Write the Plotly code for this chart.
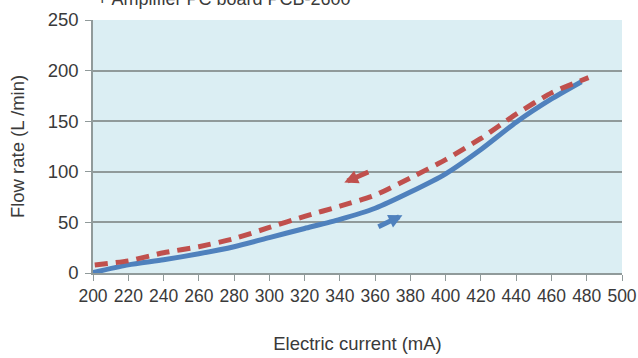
import plotly.graph_objects as go

current_up = [200, 220, 240, 260, 280, 300, 320, 340, 360, 380, 400, 420, 440, 460, 477]
flow_up = [0.5, 8, 13, 19, 26, 35, 44, 53, 64, 80, 98, 122, 149, 172, 189]

current_down = [201, 220, 240, 260, 280, 300, 320, 340, 360, 380, 400, 420, 440, 460, 481]
flow_down = [8, 12, 20, 26, 34, 45, 56, 66, 77, 94, 112, 133, 157, 178, 193]

x_ticks = list(range(200, 501, 20))
y_ticks = [0, 50, 100, 150, 200, 250]

title_text = "+ Amplifier PC board PCB-2600"
x_title = "Electric current (mA)"
y_title = "Flow rate (L /min)"

BLUE = "#4f81bd"
RED = "#c0504d"
GRID = "#909a9a"
FONT = "Liberation Sans, Arial, sans-serif"
TXT = "#3a3a3a"

fig = go.Figure()
fig.add_trace(go.Scatter(x=current_up, y=flow_up, mode="lines",
                         line=dict(color=BLUE, width=5, shape="spline", smoothing=0.6),
                         showlegend=False))
fig.add_trace(go.Scatter(x=current_down, y=flow_down, mode="lines",
                         line=dict(color=RED, width=5, dash="13px,8px", shape="spline", smoothing=0.6),
                         showlegend=False))

# direction arrows
fig.add_annotation(x=342.5, y=89.5, ax=357, ay=100.5, xref="x", yref="y", axref="x", ayref="y",
                   text="", showarrow=True, arrowhead=2, arrowsize=0.55, arrowwidth=5, arrowcolor=RED)
fig.add_annotation(x=375.5, y=57, ax=361, ay=45, xref="x", yref="y", axref="x", ayref="y",
                   text="", showarrow=True, arrowhead=2, arrowsize=0.55, arrowwidth=5, arrowcolor=BLUE)

fig.add_annotation(text=title_text, xref="paper", yref="paper", x=0.004, y=1.083,
                   xanchor="left", yanchor="middle", showarrow=False,
                   font=dict(family=FONT, size=18, color=TXT))

fig.update_layout(
    width=638, height=358,
    margin=dict(l=93, r=16, t=20, b=85),
    paper_bgcolor="white", plot_bgcolor="#dbeef3",
    font=dict(family=FONT, size=18, color=TXT),
)
fig.update_xaxes(range=[200, 500], tickvals=x_ticks, ticktext=[str(v) for v in x_ticks],
                 automargin=False,
                 showgrid=False, zeroline=False, showline=True, linecolor=GRID, linewidth=1.5,
                 ticks="outside", ticklen=6, tickcolor=GRID, tickwidth=1,
                 tickfont=dict(size=17.5),
                 title=dict(text=x_title, font=dict(size=18.5), standoff=32))
fig.update_yaxes(range=[0, 250], tickvals=y_ticks, automargin=False,
                 showgrid=True, gridcolor=GRID, gridwidth=1.5,
                 zeroline=False, showline=True, linecolor=GRID, linewidth=1.5,
                 ticks="outside", ticklen=6, tickcolor=GRID, tickwidth=1,
                 tickfont=dict(size=18.5), ticklabelstandoff=3,
                 title=dict(text=y_title, font=dict(size=18.5), standoff=18))

fig.write_html("out.html", config={"displayModeBar": False},
               post_script="document.body.style.margin='0';")
